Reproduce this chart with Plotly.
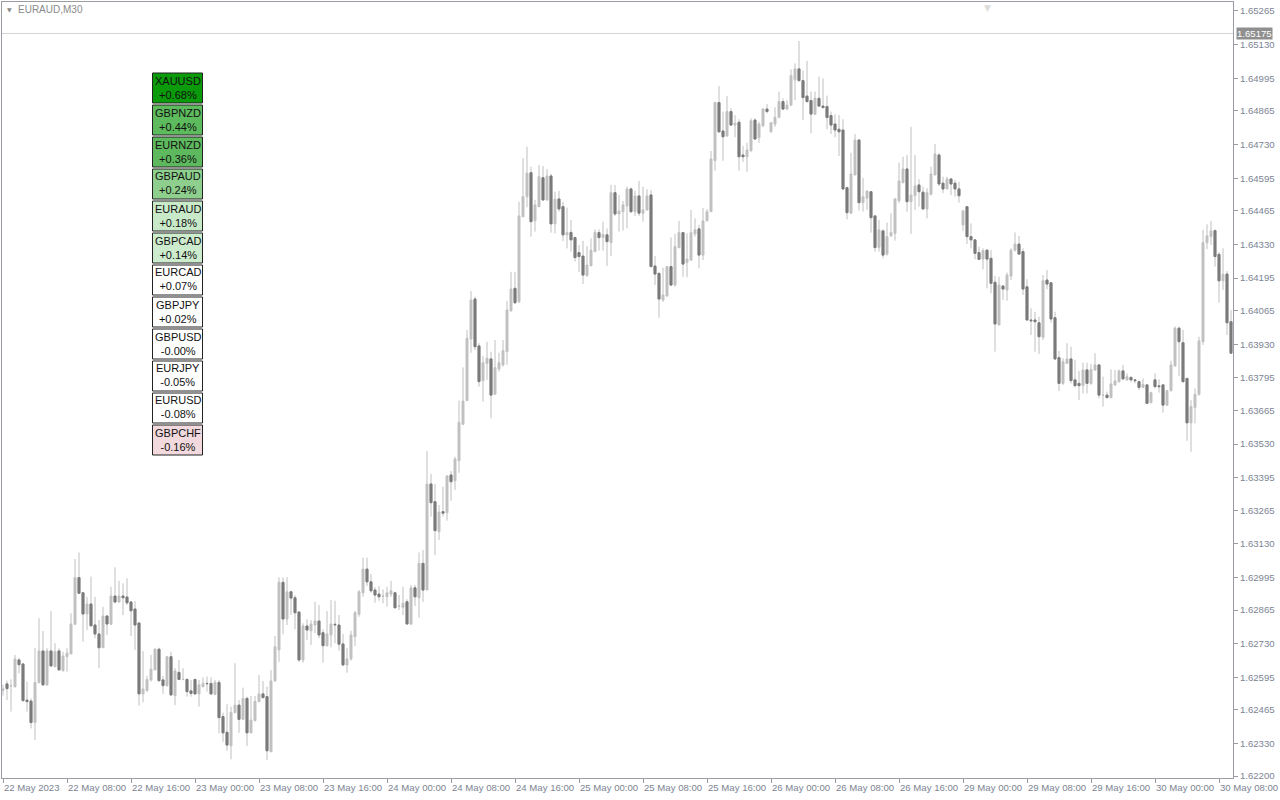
import plotly.graph_objects as go

# ---------------- data ----------------
OPEN = [1.62543,1.62569,1.62561,1.62557,1.62665,1.62649,1.62504,1.62500,1.62414,1.62574,
1.62701,1.62565,1.62701,1.62638,1.62701,1.62622,1.62678,1.62689,1.62808,1.62995,
1.62934,1.62849,1.62889,1.62805,1.62769,1.62714,1.62841,1.62808,1.62921,1.62897,
1.62921,1.62917,1.62897,1.62869,1.62813,1.62529,1.62542,1.62585,1.62625,1.62708,
1.62585,1.62562,1.62678,1.62522,1.62615,1.62586,1.62587,1.62541,1.62587,1.62529,
1.62558,1.62571,1.62571,1.62527,1.62575,1.62438,1.62375,1.62321,1.62454,1.62484,
1.62427,1.62511,1.62373,1.62422,1.62498,1.62529,1.62518,1.62297,1.62581,1.62705,
1.62976,1.62829,1.62938,1.62914,1.62857,1.62665,1.62801,1.62782,1.62805,1.62821,
1.62774,1.62722,1.62765,1.62808,1.62805,1.62729,1.62645,1.62669,1.62758,1.62848,
1.62934,1.63029,1.62978,1.62945,1.62929,1.62920,1.62918,1.62929,1.62934,1.62880,
1.62876,1.62898,1.62809,1.62954,1.62914,1.63052,1.62945,1.63370,1.63299,1.63179,
1.63259,1.63255,1.63406,1.63383,1.63463,1.63609,1.63704,1.63951,1.64111,1.63923,
1.63784,1.63853,1.63871,1.63730,1.63831,1.63847,1.63900,1.64064,1.64154,1.64100,
1.64441,1.64521,1.64617,1.64425,1.64481,1.64597,1.64508,1.64604,1.64412,1.64512,
1.64481,1.64368,1.64378,1.64357,1.64297,1.64283,1.64205,1.64245,1.64301,1.64377,
1.64357,1.64368,1.64337,1.64537,1.64452,1.64461,1.64484,1.64552,1.64461,1.64524,
1.64455,1.64468,1.64528,1.64243,1.64214,1.64107,1.64123,1.64241,1.64167,1.64317,
1.64377,1.64257,1.64267,1.64372,1.64392,1.64287,1.64425,1.64461,1.64665,1.64898,
1.64784,1.64764,1.64862,1.64808,1.64819,1.64688,1.64681,1.64705,1.64828,1.64757,
1.64805,1.64872,1.64781,1.64812,1.64839,1.64902,1.64872,1.64888,1.64989,1.65033,
1.64986,1.64924,1.64906,1.64851,1.64915,1.64884,1.64882,1.64846,1.64812,1.64791,
1.64788,1.64557,1.64455,1.64608,1.64748,1.64497,1.64515,1.64541,1.64444,1.64318,
1.64384,1.64291,1.64364,1.64374,1.64505,1.64577,1.64632,1.64501,1.64525,1.64568,
1.64539,1.64472,1.64531,1.64608,1.64688,1.64575,1.64552,1.64592,1.64575,1.64552,
1.64408,1.64481,1.64361,1.64348,1.64297,1.64271,1.64307,1.64274,1.64178,1.64007,
1.64163,1.64147,1.64203,1.64307,1.64331,1.64301,1.64160,1.64027,1.64027,1.64016,
1.63958,1.64187,1.64176,1.64036,1.63876,1.63773,1.63853,1.63871,1.63787,1.63773,
1.63764,1.63827,1.63773,1.63827,1.63847,1.63726,1.63726,1.63716,1.63767,1.63780,
1.63823,1.63787,1.63797,1.63787,1.63780,1.63757,1.63767,1.63696,1.63787,1.63763,
1.63767,1.63686,1.63744,1.63843,1.63994,1.63936,1.63793,1.63615,1.63677,1.63729,
1.63940,1.64337,1.64361,1.64385,1.64290,1.64184,1.64211,1.64020]

HIGH = [1.62565,1.62582,1.62587,1.62685,1.62672,1.62649,1.62578,1.62511,1.62712,1.62832,
1.62781,1.62712,1.62861,1.62732,1.62712,1.62698,1.62712,1.62852,1.63069,1.63096,
1.62938,1.62918,1.62999,1.62918,1.62825,1.62878,1.62845,1.62958,1.63036,1.62982,
1.62972,1.62992,1.62901,1.62901,1.62813,1.62701,1.62601,1.62685,1.62712,1.62714,
1.62601,1.62681,1.62698,1.62632,1.62665,1.62632,1.62591,1.62585,1.62587,1.62585,
1.62595,1.62598,1.62595,1.62585,1.62585,1.62454,1.62488,1.62478,1.62652,1.62504,
1.62554,1.62518,1.62521,1.62521,1.62605,1.62581,1.62558,1.62625,1.62761,1.62996,
1.62996,1.62996,1.62942,1.62925,1.62857,1.62812,1.62828,1.62825,1.62898,1.62885,
1.62788,1.62861,1.62905,1.62902,1.62845,1.62769,1.62712,1.62782,1.62861,1.62945,
1.63075,1.63075,1.63009,1.62956,1.62961,1.62948,1.62958,1.62982,1.62938,1.62925,
1.62958,1.62908,1.62965,1.62965,1.63096,1.63106,1.63502,1.63410,1.63370,1.63286,
1.63359,1.63406,1.63422,1.63479,1.63704,1.63837,1.63987,1.64143,1.64120,1.63934,
1.63883,1.63940,1.63900,1.63947,1.63896,1.63947,1.64103,1.64220,1.64220,1.64501,
1.64675,1.64721,1.64641,1.64508,1.64648,1.64644,1.64631,1.64612,1.64541,1.64544,
1.64501,1.64477,1.64428,1.64361,1.64328,1.64344,1.64323,1.64354,1.64390,1.64390,
1.64421,1.64394,1.64568,1.64568,1.64528,1.64504,1.64561,1.64557,1.64545,1.64584,
1.64561,1.64551,1.64548,1.64283,1.64216,1.64237,1.64243,1.64358,1.64372,1.64424,
1.64378,1.64374,1.64468,1.64434,1.64408,1.64475,1.64471,1.64704,1.64902,1.64965,
1.64862,1.64924,1.64875,1.64848,1.64831,1.64724,1.64737,1.64835,1.64835,1.64821,
1.64877,1.64892,1.64821,1.64879,1.64942,1.64915,1.64908,1.65031,1.65055,1.65145,
1.65026,1.65065,1.64942,1.64942,1.65002,1.64995,1.64926,1.64862,1.64851,1.64848,
1.64831,1.64561,1.64697,1.64772,1.64751,1.64597,1.64544,1.64544,1.64448,1.64428,
1.64390,1.64417,1.64455,1.64515,1.64657,1.64681,1.64688,1.64801,1.64688,1.64591,
1.64561,1.64555,1.64641,1.64732,1.64695,1.64601,1.64601,1.64595,1.64588,1.64581,
1.64468,1.64481,1.64414,1.64350,1.64321,1.64314,1.64307,1.64307,1.64203,1.64200,
1.64167,1.64217,1.64314,1.64378,1.64364,1.64314,1.64190,1.64074,1.64060,1.64040,
1.64207,1.64227,1.64176,1.64060,1.63903,1.63874,1.63934,1.63920,1.63867,1.63823,
1.63856,1.63856,1.63851,1.63894,1.63851,1.63800,1.63740,1.63829,1.63827,1.63829,
1.63847,1.63813,1.63801,1.63791,1.63784,1.63793,1.63769,1.63740,1.63813,1.63789,
1.63769,1.63747,1.63864,1.64001,1.64001,1.63987,1.63793,1.63706,1.63753,1.63960,
1.64388,1.64410,1.64424,1.64390,1.64299,1.64314,1.64223,1.64067]

LOW = [1.62522,1.62504,1.62458,1.62557,1.62611,1.62498,1.62458,1.62391,1.62344,1.62571,
1.62562,1.62562,1.62638,1.62636,1.62622,1.62618,1.62618,1.62689,1.62805,1.62932,
1.62738,1.62785,1.62798,1.62752,1.62632,1.62714,1.62765,1.62805,1.62892,1.62894,
1.62845,1.62885,1.62761,1.62705,1.62482,1.62495,1.62538,1.62578,1.62625,1.62578,
1.62529,1.62558,1.62521,1.62484,1.62585,1.62585,1.62518,1.62518,1.62525,1.62478,
1.62555,1.62538,1.62525,1.62525,1.62371,1.62337,1.62301,1.62267,1.62451,1.62373,
1.62424,1.62320,1.62371,1.62418,1.62495,1.62511,1.62264,1.62297,1.62578,1.62658,
1.62768,1.62805,1.62845,1.62788,1.62657,1.62654,1.62745,1.62725,1.62772,1.62752,
1.62654,1.62718,1.62716,1.62732,1.62702,1.62641,1.62614,1.62662,1.62721,1.62838,
1.62918,1.62961,1.62934,1.62894,1.62902,1.62892,1.62878,1.62918,1.62872,1.62865,
1.62845,1.62809,1.62805,1.62881,1.62834,1.62898,1.62945,1.63239,1.63085,1.63146,
1.63239,1.63223,1.63303,1.63346,1.63415,1.63606,1.63704,1.63896,1.63907,1.63760,
1.63700,1.63787,1.63633,1.63726,1.63820,1.63840,1.63847,1.64060,1.64091,1.64094,
1.64438,1.64479,1.64361,1.64381,1.64481,1.64505,1.64505,1.64377,1.64374,1.64461,
1.64343,1.64314,1.64301,1.64261,1.64220,1.64171,1.64200,1.64241,1.64298,1.64305,
1.64305,1.64243,1.64283,1.64444,1.64381,1.64385,1.64394,1.64455,1.64444,1.64444,
1.64421,1.64465,1.64238,1.64167,1.64036,1.64100,1.64120,1.64163,1.64160,1.64314,
1.64200,1.64198,1.64265,1.64361,1.64234,1.64267,1.64421,1.64461,1.64625,1.64777,
1.64665,1.64761,1.64804,1.64759,1.64625,1.64661,1.64621,1.64701,1.64748,1.64737,
1.64801,1.64855,1.64777,1.64801,1.64835,1.64868,1.64868,1.64884,1.64908,1.64982,
1.64828,1.64898,1.64775,1.64848,1.64882,1.64875,1.64791,1.64772,1.64759,1.64684,
1.64548,1.64430,1.64452,1.64608,1.64465,1.64461,1.64468,1.64377,1.64301,1.64301,
1.64274,1.64285,1.64361,1.64345,1.64495,1.64575,1.64461,1.64372,1.64468,1.64481,
1.64468,1.64434,1.64525,1.64608,1.64564,1.64535,1.64551,1.64528,1.64521,1.64497,
1.64384,1.64331,1.64314,1.64270,1.64267,1.64230,1.64154,1.64134,1.63900,1.64007,
1.64107,1.64104,1.64187,1.64301,1.64287,1.64127,1.64027,1.63967,1.63900,1.63891,
1.63947,1.64150,1.64016,1.63867,1.63743,1.63767,1.63851,1.63773,1.63757,1.63706,
1.63733,1.63733,1.63767,1.63823,1.63713,1.63680,1.63713,1.63713,1.63763,1.63776,
1.63787,1.63784,1.63780,1.63773,1.63747,1.63755,1.63690,1.63693,1.63753,1.63736,
1.63656,1.63683,1.63740,1.63840,1.63803,1.63776,1.63543,1.63499,1.63613,1.63724,
1.63927,1.64311,1.64328,1.64241,1.64096,1.64147,1.63967,1.63894]

CLOSE = [1.62549,1.62550,1.62561,1.62669,1.62646,1.62502,1.62498,1.62414,1.62575,1.62701,
1.62565,1.62701,1.62641,1.62698,1.62625,1.62681,1.62692,1.62809,1.62995,1.62932,
1.62849,1.62889,1.62802,1.62769,1.62714,1.62841,1.62809,1.62921,1.62897,1.62921,
1.62914,1.62894,1.62862,1.62805,1.62529,1.62549,1.62587,1.62628,1.62708,1.62582,
1.62562,1.62678,1.62525,1.62621,1.62587,1.62587,1.62538,1.62531,1.62529,1.62565,
1.62571,1.62570,1.62529,1.62575,1.62434,1.62373,1.62324,1.62455,1.62484,1.62427,
1.62511,1.62373,1.62424,1.62499,1.62529,1.62514,1.62301,1.62581,1.62718,1.62976,
1.62829,1.62938,1.62913,1.62854,1.62665,1.62801,1.62785,1.62809,1.62821,1.62765,
1.62722,1.62769,1.62809,1.62806,1.62728,1.62645,1.62669,1.62765,1.62854,1.62938,
1.63029,1.62978,1.62942,1.62925,1.62918,1.62921,1.62934,1.62942,1.62874,1.62881,
1.62892,1.62809,1.62954,1.62918,1.63052,1.62945,1.63370,1.63295,1.63183,1.63257,
1.63253,1.63402,1.63379,1.63470,1.63617,1.63702,1.63954,1.64107,1.63920,1.63780,
1.63856,1.63874,1.63726,1.63836,1.63856,1.63904,1.64067,1.64151,1.64096,1.64444,
1.64521,1.64615,1.64421,1.64488,1.64601,1.64508,1.64604,1.64412,1.64511,1.64472,
1.64368,1.64377,1.64348,1.64277,1.64281,1.64207,1.64247,1.64307,1.64378,1.64357,
1.64370,1.64341,1.64537,1.64452,1.64464,1.64488,1.64552,1.64461,1.64524,1.64455,
1.64468,1.64524,1.64241,1.64211,1.64111,1.64127,1.64241,1.64167,1.64321,1.64377,
1.64251,1.64271,1.64377,1.64388,1.64287,1.64424,1.64461,1.64672,1.64898,1.64781,
1.64761,1.64862,1.64808,1.64815,1.64681,1.64681,1.64708,1.64825,1.64752,1.64812,
1.64872,1.64862,1.64817,1.64839,1.64902,1.64872,1.64888,1.65006,1.65033,1.64986,
1.64918,1.64902,1.64852,1.64915,1.64884,1.64878,1.64838,1.64808,1.64788,1.64781,
1.64552,1.64457,1.64612,1.64748,1.64497,1.64521,1.64544,1.64437,1.64317,1.64388,
1.64287,1.64361,1.64377,1.64512,1.64584,1.64632,1.64501,1.64528,1.64564,1.64541,
1.64472,1.64537,1.64612,1.64692,1.64572,1.64552,1.64592,1.64572,1.64552,1.64525,
1.64464,1.64361,1.64348,1.64294,1.64270,1.64305,1.64271,1.64174,1.64011,1.64167,
1.64151,1.64207,1.64307,1.64331,1.64291,1.64151,1.64027,1.64024,1.64020,1.63960,
1.64184,1.64171,1.64031,1.63871,1.63773,1.63860,1.63871,1.63784,1.63764,1.63764,
1.63827,1.63773,1.63829,1.63847,1.63726,1.63726,1.63716,1.63771,1.63783,1.63823,
1.63791,1.63800,1.63787,1.63784,1.63757,1.63769,1.63693,1.63736,1.63760,1.63760,
1.63686,1.63744,1.63847,1.63994,1.63940,1.63780,1.63615,1.63680,1.63729,1.63943,
1.64337,1.64364,1.64384,1.64281,1.64184,1.64210,1.64016,1.63894]

TIME_LABELS = ["22 May 2023", "22 May 08:00", "22 May 16:00", "23 May 00:00", "23 May 08:00",
               "23 May 16:00", "24 May 00:00", "24 May 08:00", "24 May 16:00", "25 May 00:00",
               "25 May 08:00", "25 May 16:00", "26 May 00:00", "26 May 08:00", "26 May 16:00",
               "29 May 00:00", "29 May 08:00", "29 May 16:00", "30 May 00:00", "30 May 08:00"]
BARS_PER_LABEL = 16   # M30 bars between 8-hour labels

PRICE_TICKS = [1.62200, 1.62330, 1.62465, 1.62595, 1.62730, 1.62865, 1.62995, 1.63130,
               1.63265, 1.63395, 1.63530, 1.63665, 1.63795, 1.63930, 1.64065, 1.64195,
               1.64330, 1.64465, 1.64595, 1.64730, 1.64865, 1.64995, 1.65130, 1.65265]
PRICE_MIN, PRICE_MAX = 1.62192, 1.65301
BID = 1.65175

SYMBOLS = ["XAUUSD", "GBPNZD", "EURNZD", "GBPAUD", "EURAUD", "GBPCAD",
           "EURCAD", "GBPJPY", "GBPUSD", "EURJPY", "EURUSD", "GBPCHF"]
CHANGES = [0.68, 0.44, 0.36, 0.24, 0.18, 0.14, 0.07, 0.02, -0.00, -0.05, -0.08, -0.16]
BOX_COLORS = ["#0a9a0a", "#5dbb5d", "#5eb95e", "#8ecf8e", "#c9eac9", "#cdeccd",
              "#ffffff", "#ffffff", "#ffffff", "#ffffff", "#ffffff", "#f1d9dd"]

# ---------------- style ----------------
W, H = 1280, 800
ML, MR, MT, MB = 2, 47, 2, 22
PW, PH = W - ML - MR, H - MT - MB
UP_COL = "#c0c0c0"
DN_COL = "#7a7a7a"
AXIS_COL = "#9a9ca4"
TXT_COL = "#7c8493"
FONT = "Liberation Sans"

n = len(CLOSE)
xs = list(range(n))
highs = [max(h, o, c) for h, o, c in zip(HIGH, OPEN, CLOSE)]
lows = [min(l, o, c) for l, o, c in zip(LOW, OPEN, CLOSE)]

def px(xp):
    return (xp - ML) / PW

def py(yp):
    return (H - MB - yp) / PH

fig = go.Figure()

# all candles: wicks + light bodies
fig.add_trace(go.Candlestick(
    x=xs, open=OPEN, high=highs, low=lows, close=CLOSE,
    increasing=dict(line=dict(color=UP_COL, width=1), fillcolor=UP_COL),
    decreasing=dict(line=dict(color=UP_COL, width=1), fillcolor=UP_COL),
    whiskerwidth=0, hoverinfo="skip", showlegend=False))

# dark bodies for bearish candles
dn = [i for i in xs if CLOSE[i] < OPEN[i]]
fig.add_trace(go.Candlestick(
    x=dn, open=[OPEN[i] for i in dn], close=[CLOSE[i] for i in dn],
    high=[OPEN[i] for i in dn], low=[CLOSE[i] for i in dn],
    increasing=dict(line=dict(color=DN_COL, width=1), fillcolor=DN_COL),
    decreasing=dict(line=dict(color=DN_COL, width=1), fillcolor=DN_COL),
    whiskerwidth=0, hoverinfo="skip", showlegend=False))

shapes = []
annotations = []

# bid line
shapes.append(dict(type="line", xref="paper", x0=0, x1=1, yref="y", y0=BID, y1=BID,
                   line=dict(color="#d4d4d4", width=1), layer="below"))
annotations.append(dict(xref="paper", x=1, xanchor="left", xshift=3, yref="y", y=BID,
                        yanchor="middle", text=f"{BID:.5f}", showarrow=False,
                        bgcolor="#8f8f8f", borderpad=0,
                        font=dict(family=FONT, size=9.6, color="#ffffff")))

# title
annotations.append(dict(xref="paper", yref="paper", x=px(5), y=py(10), xanchor="left",
                        yanchor="middle", text="▼", showarrow=False,
                        font=dict(family="DejaVu Sans", size=6, color="#8a8a8a")))
annotations.append(dict(xref="paper", yref="paper", x=px(16), y=py(10), xanchor="left",
                        yanchor="middle", text="EURAUD,M30", showarrow=False,
                        font=dict(family=FONT, size=10, color="#8a8a8a")))
# shift marker at the top
annotations.append(dict(xref="paper", yref="paper", x=px(987), y=py(1), xanchor="center",
                        yanchor="top", text="▼", showarrow=False,
                        font=dict(family="DejaVu Sans", size=9, color="#dcdcdc")))

# symbol boxes
for k, (sym, chg, col) in enumerate(zip(SYMBOLS, CHANGES, BOX_COLORS)):
    top = 73 + 32 * k
    shapes.append(dict(type="rect", xref="paper", yref="paper",
                       x0=px(152.5), x1=px(202.5), y0=py(top + 30), y1=py(top),
                       fillcolor=col, line=dict(color="#222222", width=1), layer="above"))
    annotations.append(dict(xref="paper", yref="paper", x=px(178), y=py(top + 14.5),
                            xanchor="center", yanchor="middle",
                            text=f"{sym}<br>{chg:+.2f}%", showarrow=False,
                            font=dict(family=FONT, size=11, color="#111111")))

fig.update_layout(
    width=W, height=H,
    margin=dict(l=ML, r=MR, t=MT, b=MB, pad=0, autoexpand=False),
    paper_bgcolor="#ffffff", plot_bgcolor="#ffffff",
    showlegend=False, shapes=shapes, annotations=annotations,
    xaxis=dict(range=[-0.25, n - 0.5], rangeslider=dict(visible=False),
               tickvals=[i * BARS_PER_LABEL for i in range(len(TIME_LABELS))],
               ticktext=TIME_LABELS, ticks="outside", ticklen=4, tickcolor=AXIS_COL,
               ticklabelposition="outside right", ticklabeloverflow="allow",
               tickangle=0, automargin=False,
               showline=True, linecolor=AXIS_COL, linewidth=1, mirror=True,
               showgrid=False, zeroline=False,
               tickfont=dict(family=FONT, size=9.6, color=TXT_COL)),
    yaxis=dict(range=[PRICE_MIN, PRICE_MAX], side="right", tickvals=PRICE_TICKS,
               tickformat=".5f", ticks="outside", ticklen=4, tickcolor=AXIS_COL,
               automargin=False, ticklabeloverflow="allow",
               showline=True, linecolor=AXIS_COL, linewidth=1, mirror=True,
               showgrid=False, zeroline=False,
               tickfont=dict(family=FONT, size=9.6, color=TXT_COL)),
)

fig.write_html("out.html", config={"displayModeBar": False},
               post_script="document.body.style.margin='0';document.body.style.overflow='hidden';")
